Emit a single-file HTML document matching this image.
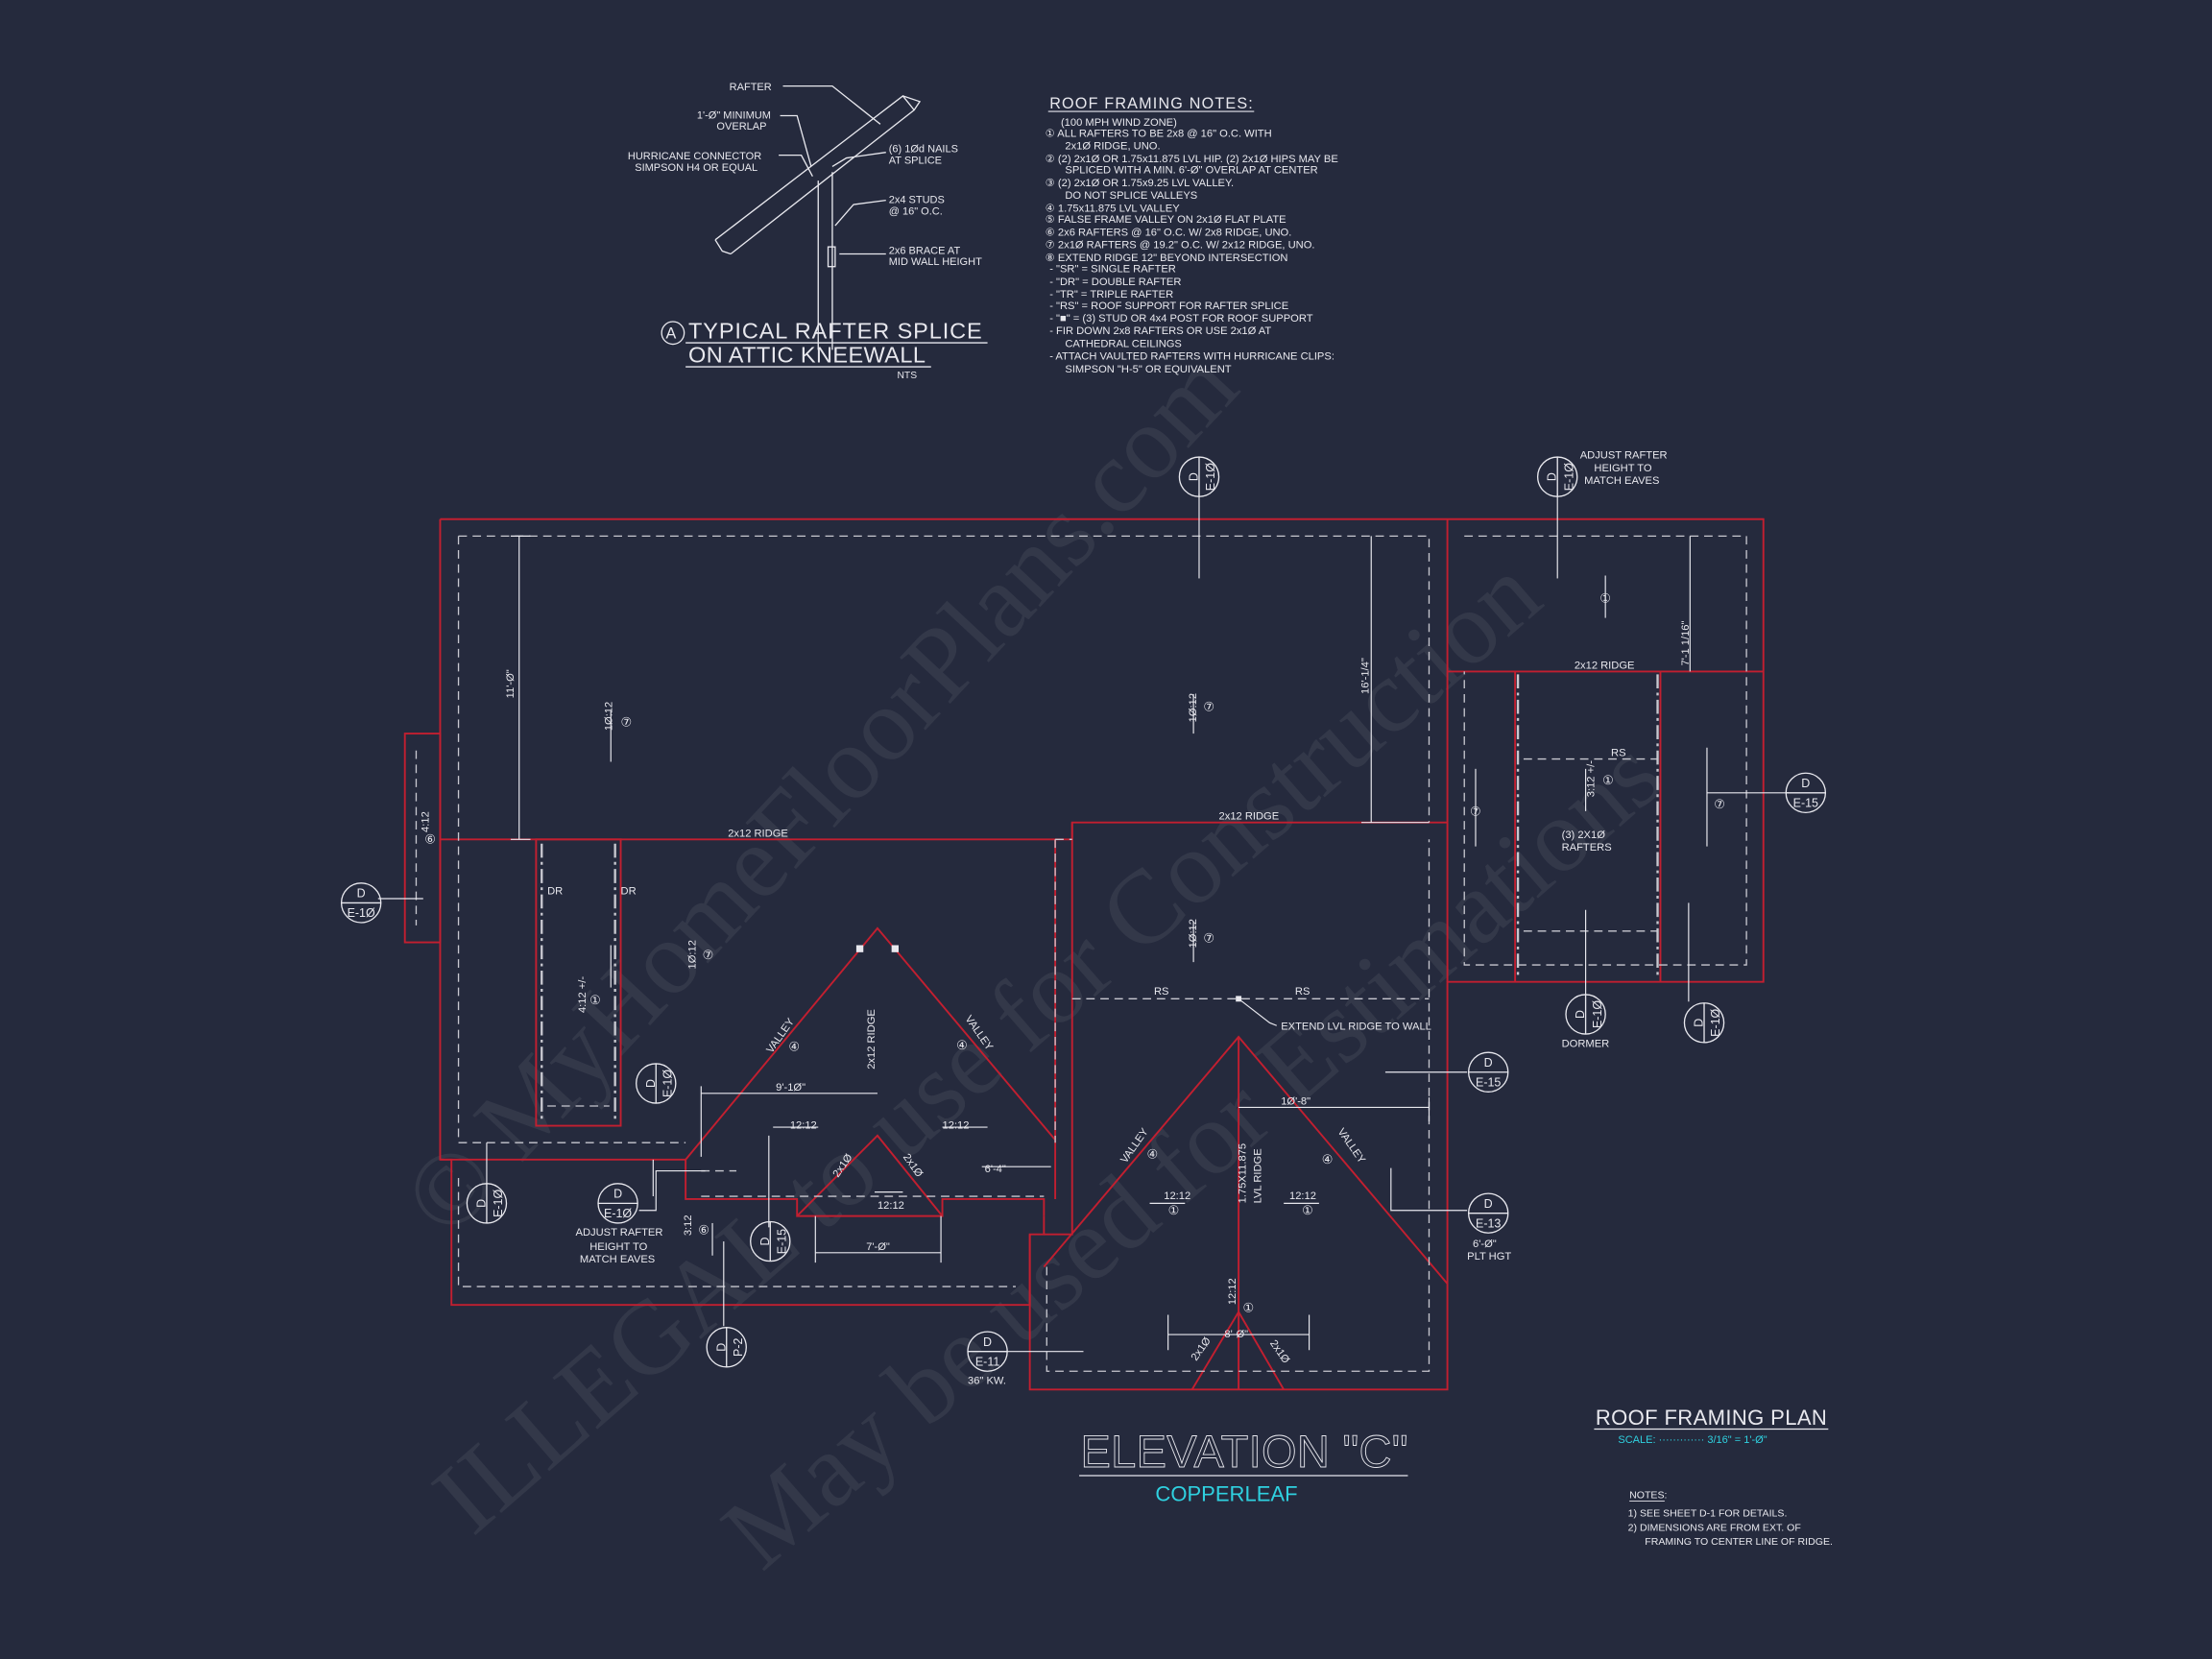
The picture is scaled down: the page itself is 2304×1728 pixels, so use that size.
<!DOCTYPE html>
<html><head><meta charset="utf-8">
<style>
html,body{margin:0;padding:0;background:#252a3d;}
svg{display:block}
text{font-family:"Liberation Sans",sans-serif;fill:#e8e8ee;}
</style></head>
<body>
<svg width="2304" height="1728" viewBox="0 0 1568 1176" xmlns="http://www.w3.org/2000/svg">
<rect width="1568" height="1176" fill="#252a3d"/>

<!-- watermark -->
<g>
<text x="0" y="0" font-size="74" transform="translate(318,880) rotate(-47)" style="fill:#ffffff;fill-opacity:0.065;font-family:'Liberation Serif',serif">© MyHomeFloorPlans.com</text>
<text x="0" y="0" font-size="74" transform="translate(335,1090) rotate(-41)" style="fill:#ffffff;fill-opacity:0.065;font-family:'Liberation Serif',serif">ILLEGAL to use for Construction</text>
<text x="0" y="0" font-size="74" transform="translate(540,1115) rotate(-41)" style="fill:#ffffff;fill-opacity:0.065;font-family:'Liberation Serif',serif">May be used for Estimations</text>
</g>

<!-- ===== Detail A ===== -->
<g stroke="#e8e8ee" stroke-width="0.9" fill="none">
<path d="M507,170 L640,68 L648,78 L518,180 M507,170 L512,178 L518,180"/>
<path d="M640,68 L652,72 L648,78"/>
<path d="M580,128 L580,248 M590,122 L590,248"/>
<rect x="587" y="175" width="5" height="14"/>
<path d="M555,61 L590,61 L624,88"/>
<path d="M553,82 L565,82 L575,118"/>
<path d="M552,110 L568,110 L576,125"/>
<path d="M628,108 L600,112 L590,118"/>
<path d="M628,142 L605,145 L592,160"/>
<path d="M628,180 L595,180"/>
</g>
<g font-size="7.5">
<text x="517" y="64">RAFTER</text>
<text x="494" y="84">1'-Ø" MINIMUM</text>
<text x="508" y="92">OVERLAP</text>
<text x="445" y="113">HURRICANE CONNECTOR</text>
<text x="450" y="121">SIMPSON H4 OR EQUAL</text>
<text x="630" y="108">(6) 1Ød NAILS</text>
<text x="630" y="116">AT SPLICE</text>
<text x="630" y="144">2x4 STUDS</text>
<text x="630" y="152">@ 16" O.C.</text>
<text x="630" y="180">2x6 BRACE AT</text>
<text x="630" y="188">MID WALL HEIGHT</text>
</g>
<circle cx="477" cy="236" r="8" fill="none" stroke="#e8e8ee" stroke-width="0.9"/>
<text x="472" y="240" font-size="11">A</text>
<text x="488" y="240" font-size="16" textLength="208">TYPICAL RAFTER SPLICE</text>
<line x1="486" y1="243" x2="700" y2="243" stroke="#e8e8ee" stroke-width="0.9"/>
<text x="488" y="257" font-size="16" textLength="168">ON ATTIC KNEEWALL</text>
<line x1="486" y1="260" x2="660" y2="260" stroke="#e8e8ee" stroke-width="0.9"/>
<text x="636" y="268" font-size="7">NTS</text>

<!-- ===== Notes ===== -->
<text x="744" y="77" font-size="11" textLength="144">ROOF FRAMING NOTES:</text>
<line x1="743" y1="79" x2="889" y2="79" stroke="#e8e8ee" stroke-width="0.8"/>
<g font-size="7.6">
<text x="752" y="89">(100 MPH WIND ZONE)</text>
<text x="741" y="97">①  ALL RAFTERS TO BE 2x8 @ 16" O.C. WITH</text>
<text x="755" y="106">2x1Ø RIDGE, UNO.</text>
<text x="741" y="115">②  (2) 2x1Ø OR 1.75x11.875 LVL HIP. (2) 2x1Ø HIPS MAY BE</text>
<text x="755" y="123">SPLICED WITH A MIN. 6'-Ø" OVERLAP AT CENTER</text>
<text x="741" y="132">③  (2) 2x1Ø OR 1.75x9.25 LVL VALLEY.</text>
<text x="755" y="141">DO NOT SPLICE VALLEYS</text>
<text x="741" y="150">④  1.75x11.875 LVL VALLEY</text>
<text x="741" y="158">⑤  FALSE FRAME VALLEY ON 2x1Ø FLAT PLATE</text>
<text x="741" y="167">⑥  2x6 RAFTERS @ 16" O.C. W/ 2x8 RIDGE, UNO.</text>
<text x="741" y="176">⑦  2x1Ø RAFTERS @ 19.2" O.C. W/ 2x12 RIDGE, UNO.</text>
<text x="741" y="185">⑧  EXTEND RIDGE 12" BEYOND INTERSECTION</text>
<text x="744" y="193">-   "SR" = SINGLE RAFTER</text>
<text x="744" y="202">-   "DR" = DOUBLE RAFTER</text>
<text x="744" y="211">-   "TR" = TRIPLE RAFTER</text>
<text x="744" y="219">-   "RS" = ROOF SUPPORT FOR RAFTER SPLICE</text>
<text x="744" y="228">-   "■"  = (3) STUD OR 4x4 POST FOR ROOF SUPPORT</text>
<text x="744" y="237">-  FIR DOWN 2x8 RAFTERS OR USE 2x1Ø AT</text>
<text x="755" y="246">CATHEDRAL CEILINGS</text>
<text x="744" y="255">-  ATTACH VAULTED RAFTERS WITH HURRICANE CLIPS:</text>
<text x="755" y="264">SIMPSON "H-5" OR EQUIVALENT</text>
</g>

<!-- ===== Plan: red lines ===== -->
<g stroke="#c21f30" stroke-width="1.3" fill="none">
<path d="M312,368 L1250,368 L1250,696 L1026,696 L1026,985 L730,985 L730,875 L740,875 L740,862"/>
<path d="M312,368 L312,822 L320,822 L320,925 L730,925 L730,875"/>
<path d="M312,822 L486,822"/>
<rect x="287" y="520" width="25" height="148"/>
<path d="M312,595 L760,595 L760,583 L1026,583"/>
<path d="M1026,368 L1026,696"/>
<path d="M1026,476 L1250,476"/>
<path d="M1074,476 L1074,696 M1177,476 L1177,696"/>
<rect x="380" y="595" width="60" height="203"/>
<path d="M486,822 L622,658 L748,808"/>
<path d="M486,822 L486,850 L565,850 L565,862 L668,862 L668,850 L740,850 L740,862"/>
<path d="M565,862 L622,805 L668,862"/>
<path d="M748,595 L748,850"/>
<path d="M760,583 L760,875 L740,875"/>
<path d="M740,898 L878,735 L1026,910"/>
<path d="M878,735 L878,985"/>
<path d="M845,985 L878,930 L910,985"/>
</g>

<!-- dashed -->
<g stroke="#c8c8d0" stroke-width="0.9" fill="none" stroke-dasharray="6,4">
<path d="M325,380 L1013,380 L1013,583"/>
<path d="M325,380 L325,810 L486,810"/>
<path d="M1038,380 L1238,380 L1238,684 L1038,684 L1038,476"/>
<path d="M295,532 L295,656"/>
<path d="M1080,538 L1175,538 M1080,660 L1175,660"/>
<path d="M325,835 L325,912 L720,912"/>
<path d="M748,595 L760,595 M748,595 L748,810"/>
<path d="M742,898 L742,972 L1013,972 L1013,595"/>
<path d="M760,708 L1013,708"/>
<path d="M497,830 L522,830"/>
<path d="M497,848 L740,848"/>
<path d="M388,784 L432,784"/>
</g>
<g stroke="#c8c8d0" stroke-width="1.6" fill="none" stroke-dasharray="10,3,2,3">
<path d="M384,598 L384,795 M436,598 L436,795 M1076,478 L1076,694 M1175,478 L1175,694"/>
</g>

<!-- white dimension / leader lines -->
<g stroke="#e8e8ee" stroke-width="0.8" fill="none">
<path d="M368,380 L368,595 M362,380 L376,380 M362,595 L376,595"/>
<path d="M972,380 L972,583 M965,583 L1013,583"/>
<path d="M1198,380 L1198,476"/>
<path d="M850,350 L850,410"/>
<path d="M1104,350 L1104,410"/>
<path d="M268,637 L300,637"/>
<path d="M433,504 L433,540"/>
<path d="M846,492 L846,520"/>
<path d="M846,653 L846,682"/>
<path d="M1138,408 L1138,438"/>
<path d="M1046,545 L1046,600"/>
<path d="M1210,530 L1210,600 M1210,562 L1268,562"/>
<path d="M1124,645 L1124,705"/>
<path d="M1197,640 L1197,710"/>
<path d="M982,760 L1040,760"/>
<path d="M986,828 L986,858 L1040,858"/>
<path d="M497,775 L622,775 M497,770 L497,820"/>
<path d="M878,785 L1013,785 M1013,778 L1013,795"/>
<path d="M696,827 L745,827"/>
<path d="M578,888 L667,888 M578,862 L578,895 M667,862 L667,895"/>
<path d="M828,946 L928,946 M828,932 L828,957 M928,932 L928,957"/>
<path d="M545,805 L545,870"/>
<path d="M513,880 L513,940"/>
<path d="M345,810 L345,840"/>
<path d="M463,822 L463,848 M453,858 L465,858 L465,830 L500,830"/>
<path d="M708,958 L768,958"/>
<path d="M548,799 L580,799"/>
<path d="M668,799 L700,799"/>
<path d="M815,853 L840,853"/>
<path d="M910,853 L935,853"/>
<path d="M620,845 L640,845"/>
<path d="M878,708 L900,725 L905,727"/>
<path d="M433,670 L433,700"/>
<path d="M505,867 L505,890"/>
<path d="M1124,575 L1124,545"/>
</g>
<rect x="876" y="706" width="4" height="4" fill="#e8e8ee"/>
<rect x="607" y="670" width="5" height="5" fill="#e8e8ee"/>
<rect x="632" y="670" width="5" height="5" fill="#e8e8ee"/>

<!-- section markers -->
<g stroke="#e8e8ee" stroke-width="0.9" fill="none">
<circle cx="256" cy="640" r="14"/><path d="M242,640 L270,640"/>
<circle cx="850" cy="338" r="14"/><path d="M850,324 L850,352"/>
<circle cx="1104" cy="338" r="14"/><path d="M1104,324 L1104,352"/>
<circle cx="1280" cy="562" r="14"/><path d="M1266,562 L1294,562"/>
<circle cx="1124" cy="719" r="14"/><path d="M1124,705 L1124,733"/>
<circle cx="1208" cy="725" r="14"/><path d="M1208,711 L1208,739"/>
<circle cx="1055" cy="760" r="14"/><path d="M1041,760 L1069,760"/>
<circle cx="1055" cy="860" r="14"/><path d="M1041,860 L1069,860"/>
<circle cx="465" cy="768" r="14"/><path d="M465,754 L465,782"/>
<circle cx="345" cy="853" r="14"/><path d="M345,839 L345,867"/>
<circle cx="438" cy="853" r="14"/><path d="M424,853 L452,853"/>
<circle cx="546" cy="880" r="14"/><path d="M546,866 L546,894"/>
<circle cx="515" cy="955" r="14"/><path d="M515,941 L515,969"/>
<circle cx="700" cy="958" r="14"/><path d="M686,958 L714,958"/>
</g>
<g font-size="8.5" text-anchor="middle">
<text x="256" y="636">D</text><text x="256" y="650">E-1Ø</text>
<text x="1280" y="558">D</text><text x="1280" y="572">E-15</text>
<text x="1055" y="756">D</text><text x="1055" y="770">E-15</text>
<text x="1055" y="856">D</text><text x="1055" y="870">E-13</text>
<text x="438" y="849">D</text><text x="438" y="863">E-1Ø</text>
<text x="700" y="954">D</text><text x="700" y="968">E-11</text>
<text transform="translate(846,338) rotate(-90)" y="3">D</text><text transform="translate(858,338) rotate(-90)" y="3">E-1Ø</text>
<text transform="translate(1100,338) rotate(-90)" y="3">D</text><text transform="translate(1112,338) rotate(-90)" y="3">E-1Ø</text>
<text transform="translate(1120,719) rotate(-90)" y="3">D</text><text transform="translate(1132,719) rotate(-90)" y="3">E-1Ø</text>
<text transform="translate(1204,725) rotate(-90)" y="3">D</text><text transform="translate(1216,725) rotate(-90)" y="3">E-1Ø</text>
<text transform="translate(461,768) rotate(-90)" y="3">D</text><text transform="translate(473,768) rotate(-90)" y="3">E-1Ø</text>
<text transform="translate(341,853) rotate(-90)" y="3">D</text><text transform="translate(353,853) rotate(-90)" y="3">E-1Ø</text>
<text transform="translate(542,880) rotate(-90)" y="3">D</text><text transform="translate(554,880) rotate(-90)" y="3">E-15</text>
<text transform="translate(511,955) rotate(-90)" y="3">D</text><text transform="translate(523,955) rotate(-90)" y="3">P-2</text>
</g>

<!-- plan labels -->
<g font-size="7.6">
<text x="1120" y="325">ADJUST RAFTER</text>
<text x="1130" y="334">HEIGHT TO</text>
<text x="1123" y="343">MATCH EAVES</text>
<text x="1116" y="474">2x12 RIDGE</text>
<text x="864" y="581">2x12 RIDGE</text>
<text x="516" y="593">2x12 RIDGE</text>
<text x="388" y="634">DR</text>
<text x="440" y="634">DR</text>
<text x="1142" y="536">RS</text>
<text x="1107" y="594">(3) 2X1Ø</text>
<text x="1107" y="603">RAFTERS</text>
<text x="818" y="705">RS</text>
<text x="918" y="705">RS</text>
<text x="908" y="730">EXTEND LVL RIDGE TO WALL</text>
<text x="1107" y="742">DORMER</text>
<text x="550" y="773">9'-1Ø"</text>
<text x="908" y="783">1Ø'-8"</text>
<text x="560" y="800">12:12</text>
<text x="668" y="800">12:12</text>
<text x="698" y="831">6'-4"</text>
<text x="622" y="857">12:12</text>
<text x="614" y="886">7'-Ø"</text>
<text x="825" y="850">12:12</text>
<text x="914" y="850">12:12</text>
<text x="868" y="948">8'-Ø"</text>
<text x="1044" y="884">6'-Ø"</text>
<text x="1040" y="893">PLT HGT</text>
<text x="686" y="981">36" KW.</text>
<text x="408" y="876">ADJUST RAFTER</text>
<text x="418" y="886">HEIGHT TO</text>
<text x="411" y="895">MATCH EAVES</text>
<text transform="translate(364,495) rotate(-90)">11'-Ø"</text>
<text transform="translate(970,492) rotate(-90)">16'-1/4"</text>
<text transform="translate(1197,472) rotate(-90)">7'-1 1/16"</text>
<text transform="translate(434,518) rotate(-90)">1Ø:12</text>
<text transform="translate(848,512) rotate(-90)">1Ø:12</text>
<text transform="translate(848,672) rotate(-90)">1Ø:12</text>
<text transform="translate(493,687) rotate(-90)">1Ø:12</text>
<text transform="translate(1130,565) rotate(-90)">3:12 +/-</text>
<text transform="translate(415,718) rotate(-90)">4:12 +/-</text>
<text transform="translate(304,590) rotate(-90)">4:12</text>
<text transform="translate(490,876) rotate(-90)">3:12</text>
<text transform="translate(620,758) rotate(-90)">2x12 RIDGE</text>
<text transform="translate(883,853) rotate(-90)">1.75X11.875</text>
<text transform="translate(886,853) rotate(-90)" dy="8">LVL RIDGE</text>
<text transform="translate(876,925) rotate(-90)">12:12</text>
<text transform="translate(547,747) rotate(-55)">VALLEY</text>
<text transform="translate(684,722) rotate(55)">VALLEY</text>
<text transform="translate(798,825) rotate(-55)">VALLEY</text>
<text transform="translate(948,802) rotate(55)">VALLEY</text>
<text transform="translate(594,835) rotate(-55)">2x1Ø</text>
<text transform="translate(640,820) rotate(55)">2x1Ø</text>
<text transform="translate(848,965) rotate(-55)">2x1Ø</text>
<text transform="translate(900,952) rotate(55)">2x1Ø</text>
</g>
<g font-size="9" text-anchor="middle">
<text x="444" y="515">⑦</text>
<text x="857" y="504">⑦</text>
<text x="857" y="668">⑦</text>
<text x="502" y="680">⑦</text>
<text x="1138" y="427">①</text>
<text x="1140" y="556">①</text>
<text x="1046" y="578">⑦</text>
<text x="1219" y="573">⑦</text>
<text x="422" y="712">①</text>
<text x="305" y="598">⑥</text>
<text x="499" y="875">⑥</text>
<text x="563" y="745">④</text>
<text x="682" y="744">④</text>
<text x="817" y="821">④</text>
<text x="941" y="825">④</text>
<text x="832" y="861">①</text>
<text x="927" y="861">①</text>
<text x="885" y="930">①</text>
</g>

<!-- Titles -->
<text x="766" y="1040" font-size="32" textLength="232" style="fill:none;stroke:#e8e8ee;stroke-width:0.6">ELEVATION "C"</text>
<line x1="765" y1="1046" x2="998" y2="1046" stroke="#e8e8ee" stroke-width="0.8"/>
<text x="819" y="1064" font-size="15" style="fill:#2fd1e0">COPPERLEAF</text>
<text x="1131" y="1010" font-size="15" textLength="164">ROOF FRAMING PLAN</text>
<line x1="1130" y1="1013" x2="1296" y2="1013" stroke="#e8e8ee" stroke-width="0.8"/>
<text x="1147" y="1023" font-size="7.5" style="fill:#2fd1e0">SCALE: ············· 3/16" = 1'-Ø"</text>
<g font-size="7.2">
<text x="1155" y="1062">NOTES:</text>
<line x1="1155" y1="1064" x2="1180" y2="1064" stroke="#e8e8ee" stroke-width="0.6"/>
<text x="1154" y="1075">1)  SEE SHEET D-1 FOR DETAILS.</text>
<text x="1154" y="1085">2)  DIMENSIONS ARE FROM EXT. OF</text>
<text x="1166" y="1095">FRAMING TO CENTER LINE OF RIDGE.</text>
</g>
</svg>
</body></html>
